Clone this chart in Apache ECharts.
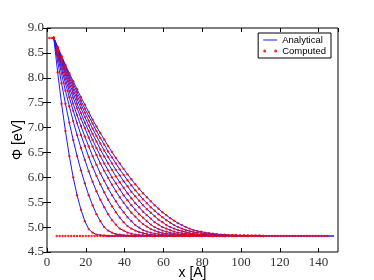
<!DOCTYPE html>
<html>
<head>
<meta charset="utf-8">
<script src="https://cdn.jsdelivr.net/npm/echarts@6/dist/echarts.min.js"></script>
<style>html,body{margin:0;padding:0;background:#fff;}#c{width:374px;height:280px;}</style>
</head>
<body>
<div id="c"></div>
<script>
// shared x positions (Å) of the sampled profiles
var xGrid = [3.5,5.5,7.5,9.5,11.5,13.5,15.5,17.5,19.5,21.5,23.5,25.5,27.5,29.5,31.5,33.5,35.5,37.5,39.5,41.5,43.5,45.5,47.5,49.5,51.5,53.5,55.5,57.5,59.5,61.5,63.5,65.5,67.5,69.5,71.5,73.5,75.5,77.5,79.5,81.5,83.5,85.5,87.5,89.5,91.5,93.5,95.5,97.5,99.5,101.5,103.5,105.5,107.5,109.5,111.5];

// potential profiles Φ (eV)
var phi1 = [8.80,8.11,7.48,6.93,6.43,6.00,5.64,5.35,5.12,4.96,4.89,4.85,4.84,4.83,4.82];
var phi2 = [8.80,8.33,7.89,7.48,7.10,6.75,6.43,6.14,5.88,5.64,5.44,5.26,5.12,5.00,4.93,4.89,4.86,4.85,4.84,4.83,4.83,4.82];
var phi3 = [8.80,8.43,8.08,7.74,7.43,7.13,6.85,6.59,6.35,6.12,5.91,5.72,5.55,5.40,5.26,5.14,5.05,4.97,4.93,4.89,4.87,4.85,4.84,4.84,4.83,4.83,4.82];
var phi4 = [8.80,8.48,8.18,7.89,7.61,7.34,7.09,6.85,6.63,6.41,6.21,6.03,5.86,5.70,5.55,5.42,5.30,5.19,5.10,5.02,4.97,4.93,4.90,4.88,4.86,4.85,4.84,4.83,4.83,4.83,4.83,4.82];
var phi5 = [8.80,8.52,8.24,7.98,7.73,7.48,7.25,7.03,6.82,6.62,6.43,6.25,6.08,5.93,5.78,5.64,5.52,5.40,5.30,5.20,5.12,5.04,4.99,4.94,4.91,4.89,4.87,4.86,4.85,4.84,4.84,4.83,4.83,4.83,4.83,4.82];
var phi6 = [8.80,8.54,8.30,8.06,7.82,7.60,7.39,7.18,6.99,6.80,6.62,6.45,6.28,6.13,5.99,5.85,5.72,5.60,5.49,5.39,5.29,5.21,5.13,5.06,5.01,4.96,4.93,4.90,4.88,4.87,4.86,4.85,4.84,4.84,4.83,4.83,4.83,4.83,4.82];
var phi7 = [8.80,8.56,8.33,8.11,7.89,7.69,7.48,7.29,7.10,6.93,6.75,6.59,6.43,6.28,6.14,6.00,5.88,5.76,5.64,5.54,5.44,5.35,5.26,5.19,5.12,5.05,5.00,4.96,4.93,4.91,4.89,4.87,4.86,4.85,4.85,4.84,4.84,4.83,4.83,4.83,4.83,4.82];
var phi8 = [8.80,8.58,8.36,8.16,7.95,7.76,7.57,7.39,7.21,7.04,6.87,6.72,6.56,6.42,6.28,6.15,6.02,5.90,5.79,5.68,5.58,5.48,5.40,5.31,5.24,5.17,5.10,5.05,5.00,4.97,4.94,4.91,4.89,4.88,4.87,4.86,4.85,4.84,4.84,4.84,4.83,4.83,4.83,4.83,4.82];
var phi9 = [8.80,8.59,8.39,8.20,8.01,7.82,7.64,7.47,7.30,7.14,6.98,6.83,6.68,6.54,6.41,6.28,6.15,6.04,5.92,5.82,5.71,5.62,5.53,5.44,5.36,5.29,5.22,5.15,5.10,5.04,5.00,4.97,4.94,4.92,4.90,4.88,4.87,4.86,4.85,4.85,4.84,4.84,4.83,4.83,4.83,4.83,4.83,4.82];
var phi10 = [8.80,8.61,8.42,8.23,8.05,7.88,7.71,7.54,7.38,7.23,7.08,6.93,6.79,6.66,6.52,6.40,6.28,6.16,6.05,5.94,5.84,5.74,5.65,5.56,5.48,5.40,5.33,5.26,5.20,5.14,5.09,5.04,5.00,4.97,4.94,4.92,4.90,4.89,4.88,4.87,4.86,4.85,4.85,4.84,4.84,4.83,4.83,4.83,4.83,4.83,4.82];
var phi11 = [8.80,8.62,8.44,8.26,8.09,7.93,7.77,7.61,7.46,7.31,7.16,7.02,6.89,6.76,6.63,6.51,6.39,6.28,6.17,6.06,5.96,5.86,5.77,5.68,5.60,5.52,5.44,5.37,5.30,5.24,5.18,5.13,5.08,5.04,5.00,4.97,4.94,4.92,4.91,4.89,4.88,4.87,4.86,4.85,4.85,4.84,4.84,4.84,4.83,4.83,4.83,4.83,4.83,4.83,4.82];

// common bulk level (analytical continuation to the right edge)
var tailX = [31.5, 148];
var tailY = [4.82, 4.82];

// computed reference profile on a finer grid (contact value then bulk level)
var flatX = [1.2,2.4,5,6.5,8,9.5,11,12.5,14,15.5,17,18.5,20,21.5,23,24.5,26,27.5,29,30.5,32,33.5,35,36.5,38,39.5,41,42.5,44,45.5,47,48.5,50,51.5,53,54.5,56,57.5,59,60.5,62,63.5,65,66.5,68,69.5,71,72.5,74,75.5,77,78.5,80,81.5,83,84.5,86,87.5,89,90.5,92,93.5,95,96.5,98,99.5,101,102.5,104,105.5,107,108.5,110,111.5,113,114.5,116,117.5,119,120.5,122,123.5,125,126.5,128,129.5,131,132.5,134,135.5,137,138.5,140,141.5,143,144.5];
var flatY = [8.8,8.8,
4.82,4.82,4.82,4.82,4.82,4.82,4.82,4.82,4.82,4.82,
4.82,4.82,4.82,4.82,4.82,4.82,4.82,4.82,4.82,4.82,
4.82,4.82,4.82,4.82,4.82,4.82,4.82,4.82,4.82,4.82,
4.82,4.82,4.82,4.82,4.82,4.82,4.82,4.82,4.82,4.82,
4.82,4.82,4.82,4.82,4.82,4.82,4.82,4.82,4.82,4.82,
4.82,4.82,4.82,4.82,4.82,4.82,4.82,4.82,4.82,4.82,
4.82,4.82,4.82,4.82,4.82,4.82,4.82,4.82,4.82,4.82,
4.82,4.82,4.82,4.82,4.82,4.82,4.82,4.82,4.82,4.82,
4.82,4.82,4.82,4.82,4.82,4.82,4.82,4.82,4.82,4.82,
4.82,4.82,4.82,4.82];

var xTicks = [0, 20, 40, 60, 80, 100, 120, 140];
var yTicks = [4.5, 5.0, 5.5, 6.0, 6.5, 7.0, 7.5, 8.0, 8.5, 9.0];

var curves = [phi1, phi2, phi3, phi4, phi5, phi6, phi7, phi8, phi9, phi10, phi11];

function pairs(xs, ys) { return ys.map(function (y, i) { return [xs[i], y]; }); }

var BLUE = '#1a1aff', RED = '#ff0000';
var series = [];
curves.forEach(function (c) {
  series.push({ name: 'Analytical', type: 'line', data: pairs(xGrid, c), symbol: 'none',
    lineStyle: { color: BLUE, width: 1 }, itemStyle: { color: BLUE }, z: 2, animation: false });
});
series.push({ name: 'Analytical', type: 'line', data: pairs(tailX, tailY), symbol: 'none',
  lineStyle: { color: BLUE, width: 1.5 }, itemStyle: { color: BLUE }, z: 2, animation: false });
curves.forEach(function (c) {
  series.push({ name: 'Computed', type: 'scatter', data: pairs(xGrid, c), symbol: 'circle', symbolSize: 2.4,
    itemStyle: { color: RED, opacity: 0.85 }, z: 3, animation: false });
});
series.push({ name: 'Computed', type: 'scatter', data: pairs(flatX, flatY), symbol: 'circle', symbolSize: 2.4,
  itemStyle: { color: RED, opacity: 0.85 }, z: 3, animation: false });

var tickFont = { fontFamily: 'Liberation Serif', fontSize: 13, color: '#333' };
var common = { axisLine: { show: false }, splitLine: { show: false },
  axisTick: { inside: true, length: 4, lineStyle: { color: '#000', width: 1 } } };

var chart = echarts.init(document.getElementById('c'), null, { renderer: 'canvas' });
chart.setOption({
  backgroundColor: '#fff',
  animation: false,
  grid: { left: 47, right: 36, top: 28, bottom: 28, show: true, borderColor: '#000', borderWidth: 1,
    backgroundColor: 'transparent', containLabel: false, outerBoundsMode: 'none' },
  legend: {
    data: [{ name: 'Analytical', icon: 'path://M0,1h14v1h-14z M0,0h0.01v0.01h-0.01z M0,3h0.01v0.01h-0.01z', itemStyle: { color: BLUE } },
           { name: 'Computed', icon: 'path://M0,1.5a1.5,1.5 0 1,0 3,0a1.5,1.5 0 1,0 -3,0M11,1.5a1.5,1.5 0 1,0 3,0a1.5,1.5 0 1,0 -3,0' }],
    orient: 'vertical', right: 43, top: 33,
    backgroundColor: '#fff', borderColor: '#000', borderWidth: 1, borderRadius: 0,
    padding: [2, 5, 2, 5], itemWidth: 14, itemHeight: 3, itemGap: 1,
    textStyle: { fontFamily: 'Liberation Sans', fontSize: 9.5, color: '#000' },
    selectedMode: false
  },
  xAxis: [
    Object.assign({ type: 'value', min: xTicks[0], max: 150, interval: 20, position: 'bottom',
      name: 'x [A]', nameLocation: 'middle', nameGap: 14, nameMoveOverlap: false,
      nameTextStyle: { fontFamily: 'Liberation Sans', fontSize: 14, color: '#000', verticalAlign: 'top' },
      axisLabel: Object.assign({ margin: 4, showMaxLabel: false }, tickFont) }, common),
    Object.assign({ type: 'value', min: xTicks[0], max: 150, interval: 20, position: 'top',
      axisLabel: { show: false } }, common)
  ],
  yAxis: [
    Object.assign({ type: 'value', min: yTicks[0], max: yTicks[yTicks.length - 1], interval: 0.5, position: 'left',
      name: 'Φ [eV]', nameLocation: 'middle', nameGap: 22, nameMoveOverlap: false,
      nameTextStyle: { fontFamily: 'Liberation Sans', fontSize: 14, color: '#000' },
      axisLabel: Object.assign({ margin: 3, formatter: function (v) { return v.toFixed(1); } }, tickFont) }, common),
    Object.assign({ type: 'value', min: yTicks[0], max: yTicks[yTicks.length - 1], interval: 0.5, position: 'right',
      axisLabel: { show: false } }, common)
  ],
  series: series
});
</script>
</body>
</html>
